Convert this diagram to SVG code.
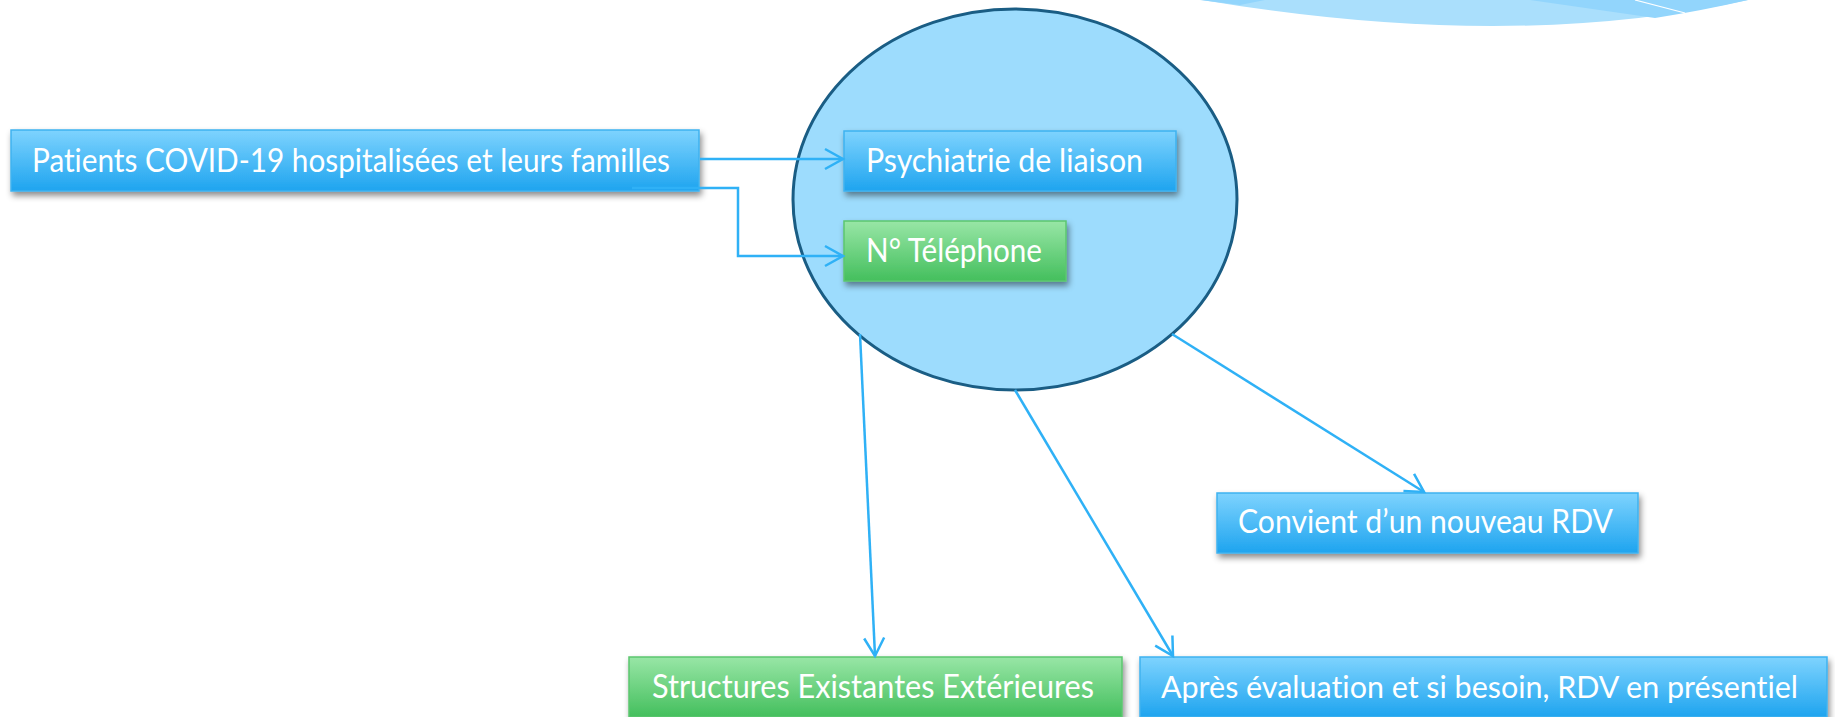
<svg xmlns="http://www.w3.org/2000/svg" width="1835" height="717" viewBox="0 0 1835 717">
<style>
.lbl{font-family:Lato,"Open Sans","Liberation Sans",sans-serif;font-size:33px;fill:#ffffff;font-variant-ligatures:none;font-feature-settings:"liga" 0;}
.blue{fill:url(#gBlue);stroke:#3fb2ef;stroke-width:1.5;filter:url(#sh);}
.green{fill:url(#gGreen);stroke:#5cc66f;stroke-width:1.5;filter:url(#sh);}
.conn{fill:none;stroke:#2fb1f6;stroke-width:2.5;marker-end:url(#arr);}
</style>
<defs>
<linearGradient id="gBlue" x1="0" y1="0" x2="0" y2="1">
<stop offset="0" stop-color="#7ed3fe"/>
<stop offset="1" stop-color="#1ea4ef"/>
</linearGradient>
<linearGradient id="gGreen" x1="0" y1="0" x2="0" y2="1">
<stop offset="0" stop-color="#98e6a6"/>
<stop offset="1" stop-color="#44bf5d"/>
</linearGradient>
<filter id="sh" x="-10%" y="-30%" width="120%" height="170%">
<feDropShadow dx="2" dy="4" stdDeviation="3" flood-color="#000" flood-opacity="0.45"/>
</filter>
<marker id="arr" markerUnits="userSpaceOnUse" markerWidth="24" markerHeight="24" viewBox="-20 -12 24 24" refX="0" refY="0" orient="auto">
<path d="M-18,-10 L0,0 L-18,10" fill="none" stroke="#2fb1f6" stroke-width="2.5"/>
</marker>
</defs>
<rect width="1835" height="717" fill="#ffffff"/>
<g id="decoration">
<path d="M1202,0 Q1510,52 1748,0 Z" fill="#aadffc"/>
<path d="M1530,0 L1655,18 Q1705,10 1748,0 Z" fill="#92d5fc"/>
<path d="M1200,0 L1265,0 L1240,5 Z" fill="#92d5fc"/>
<path d="M1635,0 L1685,13" stroke="#ffffff" stroke-width="1.2"/>
</g>
<g id="cercle">
<ellipse cx="1015" cy="199.5" rx="222" ry="190.5" fill="#9ddcfd" stroke="#1a5d84" stroke-width="3"/>
</g>
<g id="patients">
<rect class="blue" x="11" y="130" width="688" height="61"/>
<text class="lbl" x="32" y="172" textLength="638" lengthAdjust="spacingAndGlyphs">Patients COVID-19 hospitalisées et leurs familles</text>
</g>
<g id="psychiatrie">
<rect class="blue" x="844" y="131" width="332" height="60"/>
<text class="lbl" x="866" y="172" textLength="277" lengthAdjust="spacingAndGlyphs">Psychiatrie de liaison</text>
</g>
<g id="telephone">
<rect class="green" x="844" y="221" width="222" height="60"/>
<text class="lbl" x="866" y="262" textLength="176" lengthAdjust="spacingAndGlyphs">N° Téléphone</text>
</g>
<g id="convient">
<rect class="blue" x="1217" y="493" width="421" height="60"/>
<text class="lbl" x="1238" y="533" textLength="375" lengthAdjust="spacingAndGlyphs">Convient d’un nouveau RDV</text>
</g>
<g id="structures">
<rect class="green" x="629" y="657" width="493" height="60"/>
<text class="lbl" x="652" y="698" textLength="442" lengthAdjust="spacingAndGlyphs">Structures Existantes Extérieures</text>
</g>
<g id="apres">
<rect class="blue" x="1140" y="657" width="687" height="60"/>
<text class="lbl" x="1161" y="698" style="font-size:30px" textLength="637" lengthAdjust="spacingAndGlyphs">Après évaluation et si besoin, RDV en présentiel</text>
</g>
<g id="connectors">
<path class="conn" d="M700,159 L843,159"/>
<path class="conn" d="M632,188 L738,188 L738,256 L843,256"/>
<path class="conn" d="M860,334 L875,656"/>
<path class="conn" d="M1015,390 L1173,656"/>
<path class="conn" d="M1172,334 L1424,492"/>
</g>
</svg>
